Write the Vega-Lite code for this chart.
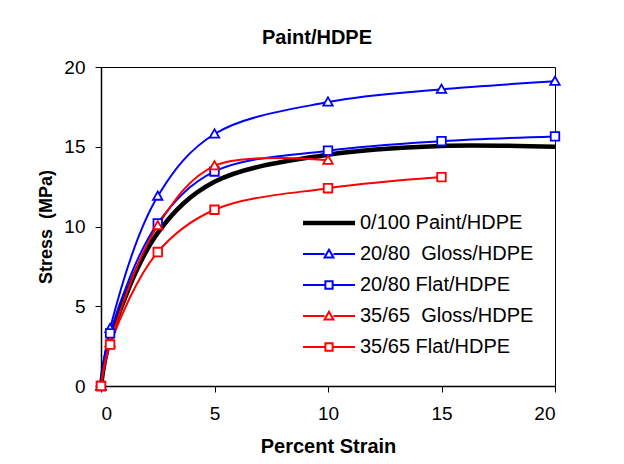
{
  "$schema": "https://vega.github.io/schema/vega-lite/v6.json",
  "width": 454,
  "height": 319,
  "autosize": "none",
  "padding": {"left": 101, "top": 67, "right": 69, "bottom": 78},
  "background": "white",
  "title": {"text": "Paint/HDPE", "font": "Liberation Sans", "fontSize": 20, "fontWeight": "bold", "color": "black", "anchor": "middle", "offset": 10, "dx": -11},
  "config": {
    "font": "Liberation Sans",
    "view": {"stroke": "black", "strokeWidth": 1},
    "axis": {"grid": false, "domainColor": "black", "domainWidth": 1.5, "tickColor": "black", "tickSize": 6, "labelFont": "Liberation Sans", "labelFontSize": 19, "labelColor": "black", "titleFont": "Liberation Sans", "titleFontWeight": "bold", "titleColor": "black"}
  },
  "data": {"values": [
    {"series": "0/100 Paint/HDPE", "strain": 0, "stress": 0},
    {"series": "0/100 Paint/HDPE", "strain": 0.4, "stress": 2.9},
    {"series": "0/100 Paint/HDPE", "strain": 2.5, "stress": 9.6},
    {"series": "0/100 Paint/HDPE", "strain": 5, "stress": 12.8},
    {"series": "0/100 Paint/HDPE", "strain": 10, "stress": 14.5},
    {"series": "0/100 Paint/HDPE", "strain": 15, "stress": 15.05},
    {"series": "0/100 Paint/HDPE", "strain": 20, "stress": 15.0},
    {"series": "20/80  Gloss/HDPE", "strain": 0, "stress": 0},
    {"series": "20/80  Gloss/HDPE", "strain": 0.4, "stress": 3.6},
    {"series": "20/80  Gloss/HDPE", "strain": 2.5, "stress": 11.9},
    {"series": "20/80  Gloss/HDPE", "strain": 5, "stress": 15.8},
    {"series": "20/80  Gloss/HDPE", "strain": 10, "stress": 17.8},
    {"series": "20/80  Gloss/HDPE", "strain": 15, "stress": 18.6},
    {"series": "20/80  Gloss/HDPE", "strain": 20, "stress": 19.1},
    {"series": "20/80 Flat/HDPE", "strain": 0, "stress": 0},
    {"series": "20/80 Flat/HDPE", "strain": 0.4, "stress": 3.3},
    {"series": "20/80 Flat/HDPE", "strain": 2.5, "stress": 10.2},
    {"series": "20/80 Flat/HDPE", "strain": 5, "stress": 13.45},
    {"series": "20/80 Flat/HDPE", "strain": 10, "stress": 14.75},
    {"series": "20/80 Flat/HDPE", "strain": 15, "stress": 15.35},
    {"series": "20/80 Flat/HDPE", "strain": 20, "stress": 15.65},
    {"series": "35/65  Gloss/HDPE", "strain": 0, "stress": 0},
    {"series": "35/65  Gloss/HDPE", "strain": 0.4, "stress": 2.7},
    {"series": "35/65  Gloss/HDPE", "strain": 2.5, "stress": 10.05},
    {"series": "35/65  Gloss/HDPE", "strain": 5, "stress": 13.8},
    {"series": "35/65  Gloss/HDPE", "strain": 10, "stress": 14.15},
    {"series": "35/65 Flat/HDPE", "strain": 0, "stress": 0},
    {"series": "35/65 Flat/HDPE", "strain": 0.4, "stress": 2.6},
    {"series": "35/65 Flat/HDPE", "strain": 2.5, "stress": 8.4},
    {"series": "35/65 Flat/HDPE", "strain": 5, "stress": 11.05},
    {"series": "35/65 Flat/HDPE", "strain": 10, "stress": 12.4},
    {"series": "35/65 Flat/HDPE", "strain": 15, "stress": 13.1}
  ]},
  "layer": [
    {
      "mark": {"type": "line", "interpolate": "catmull-rom", "clip": false},
      "encoding": {
        "x": {"field": "strain", "type": "quantitative", "scale": {"domain": [0, 20], "nice": false}, "axis": {"values": [0, 5, 10, 15, 20], "title": "Percent Strain", "titleFontSize": 20, "labelPadding": 12, "titlePadding": 13}},
        "y": {"field": "stress", "type": "quantitative", "scale": {"domain": [0, 20], "nice": false}, "axis": {"values": [0, 5, 10, 15, 20], "title": "Stress\u00a0\u00a0(MPa)", "titleFontSize": 18, "labelPadding": 10, "titlePadding": 8}},
        "stroke": {"field": "series", "type": "nominal",
          "scale": {"domain": ["0/100 Paint/HDPE", "20/80  Gloss/HDPE", "20/80 Flat/HDPE", "35/65  Gloss/HDPE", "35/65 Flat/HDPE"], "range": ["black", "#0000ff", "#0000ff", "#ff0000", "#ff0000"]},
          "legend": {"title": null, "orient": "none", "legendX": 218, "legendY": 146, "labelFont": "Liberation Sans", "labelFontSize": 20, "labelColor": "black", "labelLimit": 400, "symbolSize": 2704, "labelOffset": 21, "rowPadding": 11, "symbolType": "stroke",
            "labelExpr": "replace(datum.label, '  ', ' \u00a0')",
            "encode": {"symbols": {"update": {
              "shape": {"signal": "datum.value == '0/100 Paint/HDPE' ? 'M-1,0H1' : (indexof(datum.value, 'Gloss') >= 0 ? 'M-1,0H-0.17M0.17,0H1M0,-0.16L0.17,0.13H-0.17Z' : 'M-1,0H-0.14M0.14,0H1M-0.14,-0.14H0.14V0.14H-0.14Z')"},
              "strokeWidth": {"signal": "datum.value == '0/100 Paint/HDPE' ? 4.5 : 2"},
              "fill": {"value": "white"}
            }}}
          }},
        "strokeWidth": {"condition": {"test": "datum.series == '0/100 Paint/HDPE'", "value": 4.5}, "value": 2},
        "detail": {"field": "series"}
      }
    },
    {
      "transform": [{"filter": "datum.series != '0/100 Paint/HDPE'"}],
      "mark": {"type": "point", "filled": false, "fill": "white", "fillOpacity": 1, "opacity": 1, "strokeWidth": 1.8, "size": 90, "clip": false},
      "encoding": {
        "x": {"field": "strain", "type": "quantitative"},
        "y": {"field": "stress", "type": "quantitative"},
        "stroke": {"field": "series", "type": "nominal", "legend": null},
        "shape": {"field": "series", "type": "nominal", "legend": null,
          "scale": {"domain": ["20/80  Gloss/HDPE", "20/80 Flat/HDPE", "35/65  Gloss/HDPE", "35/65 Flat/HDPE"], "range": ["M0,-1L1,0.75H-1Z", "M-0.9,-0.9H0.9V0.9H-0.9Z", "M0,-1L1,0.75H-1Z", "M-0.9,-0.9H0.9V0.9H-0.9Z"]}}
      }
    }
  ]
}
